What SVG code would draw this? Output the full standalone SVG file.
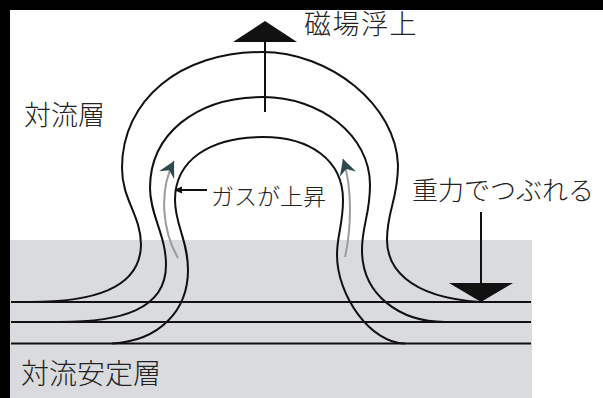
<svg xmlns="http://www.w3.org/2000/svg" width="603" height="398" viewBox="0 0 603 398">
  <style>
    .label { font-family: "Noto Sans CJK JP", "Noto Sans", sans-serif; font-weight: 300; fill: #222; }
    .field { fill: none; stroke: #111; stroke-width: 2; }
    .layer { stroke: #111; stroke-width: 2; }
    .flow { fill: none; stroke: #9c9c9c; stroke-width: 2; }
    .stem { stroke: #111; stroke-width: 2; }
  </style>
  <defs>
    <marker id="flowHead" viewBox="-16 -9 18 18" markerWidth="18" markerHeight="18" markerUnits="userSpaceOnUse" orient="auto" refX="0" refY="0">
      <path d="M0,0 L-16,-8.5 L-10.5,0 L-16,8.5 Z" fill="#2c4a4f"/>
    </marker>
  </defs>

  <!-- frame and background -->
  <rect x="0" y="0" width="603" height="398" fill="#000"/>
  <rect x="10" y="10" width="593" height="388" fill="#fff"/>

  <!-- stable layer band -->
  <g id="stable-layer">
    <rect x="10" y="240" width="522" height="158" fill="#d9dbde"/>
    <text class="label" x="21" y="384" font-size="28">対流安定層</text>
  </g>

  <g id="convection-label">
    <text class="label" x="24" y="125" font-size="27">対流層</text>
  </g>

  <g id="connectors">
    <!-- horizontal field lines in the stable layer -->
    <line class="layer" x1="11" y1="302" x2="531" y2="302"/>
    <line class="layer" x1="11" y1="322" x2="531" y2="322"/>
    <line class="layer" x1="11" y1="343.5" x2="531" y2="343.5"/>

    <!-- outer loop -->
    <path class="field" d="M30,302 C90,302 140,290 141,245 C141,215 122,200 122,168 C122,100 180,52 262,52 C330,52 396,105 398,165 C398,200 387,210 387,240 C387,265 405,297 480,302"/>
    <!-- middle loop -->
    <path class="field" d="M60,322 C120,322 166,310 166,265 C166,235 150,215 150,188 C150,135 195,97 263,97 C320,97 370,135 370,185 C370,215 362,225 362,250 C362,295 400,322 445,322"/>
    <!-- inner loop -->
    <path class="field" d="M112,343.5 C160,341 188,310 188,270 C188,240 175,225 175,200 C175,160 210,137 263,137 C310,137 343,160 343,200 C343,225 337,235 337,255 C337,295 370,343 405,343.5"/>

    <!-- rising gas -->
    <path class="flow" d="M178,258 C163,232 158,192 174,161" marker-end="url(#flowHead)"/>
    <path class="flow" d="M345,257 C351,230 353,190 343,159" marker-end="url(#flowHead)"/>
  </g>

  <g id="rise-arrow">
    <line class="stem" x1="265" y1="42" x2="265" y2="112"/>
    <polygon points="233,42 297,42 265,21" fill="#111"/>
    <text class="label" x="304" y="34" font-size="27" letter-spacing="1.5">磁場浮上</text>
  </g>

  <g id="gravity-arrow">
    <line class="stem" x1="481" y1="212" x2="481" y2="290" stroke-width="1.6"/>
    <polygon points="449,283 513,283 481,302" fill="#111"/>
    <text class="label" x="412" y="200" font-size="26">重力でつぶれる</text>
  </g>

  <g id="gas-label">
    <line class="stem" x1="178" y1="190" x2="207" y2="190" stroke-width="1.6"/>
    <polygon points="174,190 182,186.5 182,193.5" fill="#111"/>
    <text class="label" x="211" y="205" font-size="23">ガスが上昇</text>
  </g>
</svg>
